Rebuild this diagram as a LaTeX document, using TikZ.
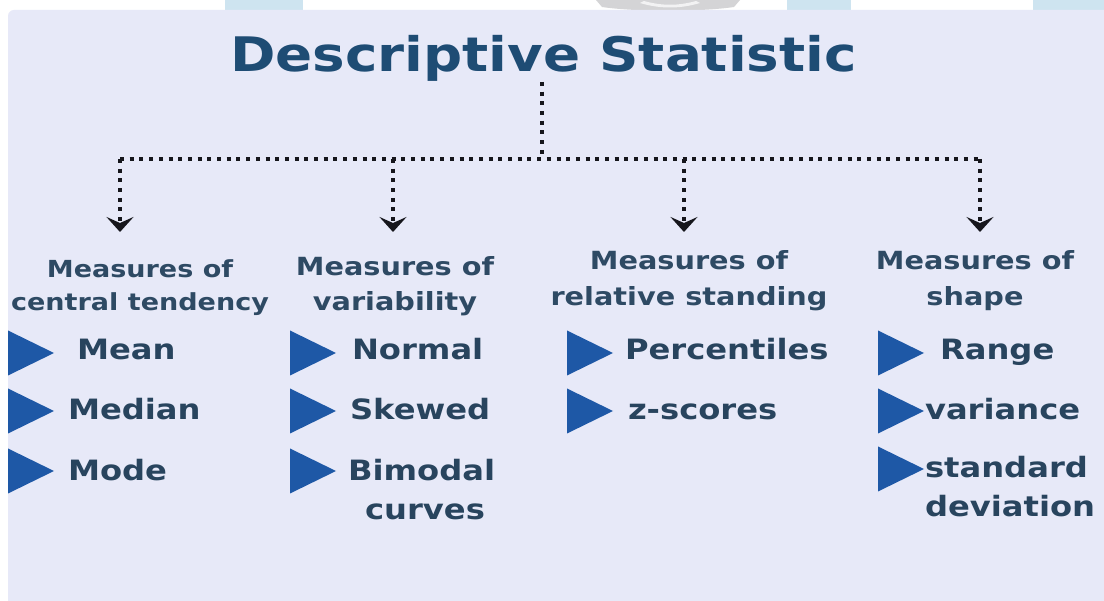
\documentclass[tikz,border=0pt]{standalone}
\usepackage{fontspec}
\setmainfont{DejaVu Sans}[FakeStretch=1.15]
\usepackage{tikz}
\usetikzlibrary{arrows.meta,positioning,calc}
\definecolor{panelbg}{RGB}{231,233,248}
\definecolor{titleblue}{RGB}{30,76,116}
\definecolor{headslate}{RGB}{46,74,100}
\definecolor{itemslate}{RGB}{40,68,94}
\definecolor{triblue}{RGB}{30,88,166}
\definecolor{dotblack}{RGB}{22,22,28}
\definecolor{wmblue}{RGB}{206,228,240}
\definecolor{wmgray}{RGB}{212,212,214}

\begin{document}
\begin{tikzpicture}[x=1pt,y=-1pt,
  every node/.style={inner sep=0pt,outer sep=0pt},
  title/.style={font=\fontsize{47.6}{56}\selectfont\bfseries,text=titleblue,anchor=base},
  head/.style={font=\fontsize{25}{30}\selectfont\bfseries,text=headslate,anchor=base},
  headsm/.style={head,font=\fontsize{23.5}{28}\selectfont\bfseries},
  item/.style={font=\fontsize{28}{33}\selectfont\bfseries,text=itemslate,anchor=base west},
  tri/.style={fill=triblue},
  dotline/.style={draw=dotblack,line width=4.8pt,dash pattern=on 4pt off 5.7pt},
  dotarrow/.style={dotline,-{Stealth[length=15pt,width=27pt,inset=6pt]}}
]
\useasboundingbox (0,0) rectangle (1104,601);
% white strip with faint watermark bits
\fill[white] (0,0) rectangle (1104,601);
\fill[wmblue] (225,0) rectangle (303,10);
\fill[wmblue] (787,0) rectangle (851,10);
\fill[wmblue] (1033,0) rectangle (1104,10);
\fill[wmgray] (596,0) -- (740,0) -- (734,7) .. controls (700,12) and (636,12) .. (602,7) -- cycle;
\fill[white!70!wmgray] (640,3) .. controls (660,9) and (680,9) .. (700,3) -- (696,1) .. controls (678,6) and (662,6) .. (644,1) -- cycle;
% panel
\fill[panelbg,rounded corners=6pt] (8,10) rectangle (1110,610);

% title
\node[title] (title) at (543.5,72) {Descriptive Statistic};

% dotted tree
\coordinate (jn) at (542,159);
\coordinate (b1) at (120,159);
\coordinate (b2) at (393,159);
\coordinate (b3) at (684,159);
\coordinate (b4) at (980,159);
\foreach \k in {1,...,4}
  \coordinate (t\k) at ($(b\k)+(0,73)$);
\draw[dotline] (jn |- title.south) -- (jn);
\draw[dotline] (b1) -- (b4);
\foreach \k in {1,...,4}
  \draw[dotarrow] (b\k) -- (t\k);

% headings
\node[headsm] (h1a) at (140,278) {Measures of};
\node[headsm] (h1b) at (140,311) {central tendency};
\node[head]   (h2a) at (395,276) {Measures of};
\node[head]   (h2b) at (395,311) {variability};
\node[head]   (h3a) at (689,270) {Measures of};
\node[head]   (h3b) at (689,306) {relative standing};
\node[head]   (h4a) at (975,270) {Measures of};
\node[head]   (h4b) at (975,306) {shape};

% bullets
\foreach \tx/\ty in {8/353,8/411,8/471,290/353,290/411,290/471,
                     567/353,567/411,878/353,878/411,878/469}
  \fill[tri] (\tx,\ty-22.5) -- (\tx+46,\ty) -- (\tx,\ty+22.5) -- cycle;

% items
\foreach \nd/\tx/\ty/\lbl in {m1/77/360/Mean,m2/68/420/Median,m3/68/481/Mode,
                              v1/352/360/Normal,v2/350/420/Skewed,v3/348/481/Bimodal,
                              r1/625/360/Percentiles,r2/628/420/z-scores,
                              s1/940/360/Range,s2/925/420/variance,s3/925/478/standard}
  \node[item] (\nd) at (\tx,\ty) {\lbl};
\node[item,anchor=base] (v3b) at (425,520) {curves};
\node[item] (s3b) at (925,517) {deviation};
\end{tikzpicture}
\end{document}
